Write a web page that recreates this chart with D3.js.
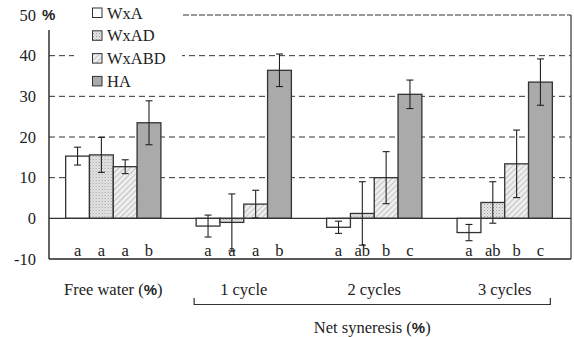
<!DOCTYPE html>
<html>
<head>
<meta charset="utf-8">
<script src="https://cdn.jsdelivr.net/npm/d3@7"></script>
<style>
  body { margin: 0; background: #fff; }
  svg text { font-family: "Liberation Serif", "Times New Roman", serif; fill: #222; }
  .pct { font-family: "Liberation Sans", Arial, sans-serif; font-weight: bold; }
</style>
</head>
<body>
<svg id="chart" width="574" height="337"></svg>
<script>
// data
var groups = ['Free water', '1 cycle', '2 cycles', '3 cycles'];
var series = ['WxA', 'WxAD', 'WxABD', 'HA'];
var means = [
  [15.3, 15.6, 12.7, 23.5],
  [-1.9, -1.0, 3.5, 36.4],
  [-2.2, 1.2, 10.0, 30.5],
  [-3.5, 3.9, 13.4, 33.5]
];
var errs = [
  [2.2, 4.3, 1.7, 5.4],
  [2.7, 7.0, 3.4, 4.0],
  [1.5, 7.8, 6.4, 3.5],
  [2.0, 5.1, 8.3, 5.7]
];
var letters = [
  ['a', 'a', 'a', 'b'],
  ['a', 'a', 'a', 'b'],
  ['a', 'ab', 'b', 'c'],
  ['a', 'ab', 'b', 'c']
];
var yTicks = [-10, 0, 10, 20, 30, 40, 50];
var groupLabels = ['Free water (', '1 cycle', '2 cycles', '3 cycles'];

var svg = d3.select('#chart');
var plotL = 49, plotR = 571, plotT = 15, plotB = 259;
var fs = 16.5;

var y = d3.scaleLinear().domain([-10, 50]).range([plotB, plotT]);
var x0 = d3.scaleBand().domain(groups).range([50, 568])
  .paddingInner(0.27).paddingOuter(0.12);
var x1 = d3.scaleBand().domain(series).range([0, x0.bandwidth()]);

// patterns
var defs = svg.append('defs');
var dots = defs.append('pattern')
  .attr('id', 'dots')
  .attr('patternUnits', 'userSpaceOnUse')
  .attr('width', 3).attr('height', 3);
dots.append('rect').attr('width', 3).attr('height', 3).attr('fill', '#e6e6e6');
dots.append('rect').attr('x', 0).attr('y', 0).attr('width', 1).attr('height', 1).attr('fill', '#9a9a9a');
dots.append('rect').attr('x', 1.5).attr('y', 1.5).attr('width', 1).attr('height', 1).attr('fill', '#b5b5b5');

var hatch = defs.append('pattern')
  .attr('id', 'hatch')
  .attr('patternUnits', 'userSpaceOnUse')
  .attr('width', 4).attr('height', 4)
  .attr('patternTransform', 'rotate(45)');
hatch.append('rect').attr('width', 4).attr('height', 4).attr('fill', '#eeeeee');
hatch.append('line').attr('x1', 0).attr('y1', 0).attr('x2', 0).attr('y2', 4)
  .attr('stroke', '#b8b8b8').attr('stroke-width', 1.6);

var fills = { WxA: '#ffffff', WxAD: 'url(#dots)', WxABD: 'url(#hatch)', HA: '#aaaaaa' };

// gridlines
[10, 20, 30, 40].forEach(function (t) {
  svg.append('line')
    .attr('x1', plotL).attr('x2', plotR)
    .attr('y1', y(t)).attr('y2', y(t))
    .attr('stroke', '#333').attr('stroke-dasharray', '6,4');
});
svg.append('line')
  .attr('x1', 183).attr('x2', plotR)
  .attr('y1', y(50)).attr('y2', y(50))
  .attr('stroke', '#333').attr('stroke-dasharray', '6,2');

// frame
svg.append('line').attr('x1', plotR).attr('x2', plotR)
  .attr('y1', y(50)).attr('y2', plotB).attr('stroke', '#333').attr('stroke-width', 1.2);
svg.append('line').attr('x1', plotL).attr('x2', plotR)
  .attr('y1', plotB).attr('y2', plotB).attr('stroke', '#222').attr('stroke-width', 1.4);
svg.append('line').attr('x1', plotL).attr('x2', plotL)
  .attr('y1', 30).attr('y2', plotB).attr('stroke', '#222').attr('stroke-width', 1.4);

// y labels
svg.selectAll('.ylab').data(yTicks).enter().append('text')
  .attr('class', 'ylab')
  .attr('x', 36).attr('y', function (d) { return y(d) + 5.5; })
  .attr('text-anchor', 'end')
  .attr('font-size', fs)
  .text(function (d) { return d; });
svg.append('text').attr('class', 'pct')
  .attr('x', 42).attr('y', y(50) + 5)
  .attr('font-size', 15).text('%');

// bars
var g = svg.selectAll('.grp').data(groups).enter().append('g')
  .attr('class', 'grp')
  .attr('transform', function (d) { return 'translate(' + x0(d) + ',0)'; });

g.each(function (gname, gi) {
  var sel = d3.select(this);
  series.forEach(function (s, si) {
    var v = means[gi][si], e = errs[gi][si];
    var bx = x1(s), bw = x1.bandwidth(), cx = bx + bw / 2;
    sel.append('rect')
      .attr('x', bx).attr('width', bw)
      .attr('y', y(Math.max(0, v)))
      .attr('height', Math.abs(y(v) - y(0)))
      .attr('fill', fills[s])
      .attr('stroke', '#333').attr('stroke-width', 1.3);
    sel.append('line')
      .attr('x1', cx).attr('x2', cx)
      .attr('y1', y(v + e)).attr('y2', y(v - e))
      .attr('stroke', '#222').attr('stroke-width', 1.1);
    [v + e, v - e].forEach(function (t) {
      sel.append('line')
        .attr('x1', cx - 3.5).attr('x2', cx + 3.5)
        .attr('y1', y(t)).attr('y2', y(t))
        .attr('stroke', '#222').attr('stroke-width', 1.1);
    });
    sel.append('text')
      .attr('x', cx).attr('y', 256)
      .attr('text-anchor', 'middle')
      .attr('font-size', fs)
      .text(letters[gi][si]);
  });
});

// zero line
svg.append('line').attr('x1', plotL).attr('x2', plotR)
  .attr('y1', y(0)).attr('y2', y(0)).attr('stroke', '#333').attr('stroke-width', 1.2);

// legend
var leg = svg.append('g');
leg.append('rect').attr('x', 74).attr('y', 0).attr('width', 108).attr('height', 92).attr('fill', '#fff');
series.forEach(function (s, i) {
  var ly = 13 + i * 22.8;
  leg.append('rect')
    .attr('x', 92.5).attr('y', ly - 5).attr('width', 9.5).attr('height', 9.5)
    .attr('fill', fills[s]).attr('stroke', '#333').attr('stroke-width', 1);
  leg.append('text')
    .attr('x', 107).attr('y', ly + 5.5)
    .attr('font-size', fs)
    .text(s);
});

// category labels
groups.forEach(function (gname, gi) {
  var t = svg.append('text')
    .attr('x', x0(gname) + x0.bandwidth() / 2)
    .attr('y', 295)
    .attr('text-anchor', 'middle')
    .attr('font-size', fs);
  t.append('tspan').text(groupLabels[gi]);
  if (gi === 0) {
    t.append('tspan').attr('class', 'pct').attr('font-size', 15).text('%');
    t.append('tspan').text(')');
  }
});

// bracket for net syneresis
var bx1 = x0(groups[1]) - 2, bx2 = x0(groups[3]) + x0.bandwidth() - 2;
svg.append('path')
  .attr('d', 'M' + bx1 + ',298V304.5H' + bx2 + 'V298')
  .attr('fill', 'none').attr('stroke', '#333').attr('stroke-width', 1.2);
var ns = svg.append('text')
  .attr('x', (bx1 + bx2) / 2).attr('y', 333)
  .attr('text-anchor', 'middle')
  .attr('font-size', fs);
ns.append('tspan').text('Net syneresis (');
ns.append('tspan').attr('class', 'pct').attr('font-size', 15).text('%');
ns.append('tspan').text(')');
</script>
</body>
</html>
